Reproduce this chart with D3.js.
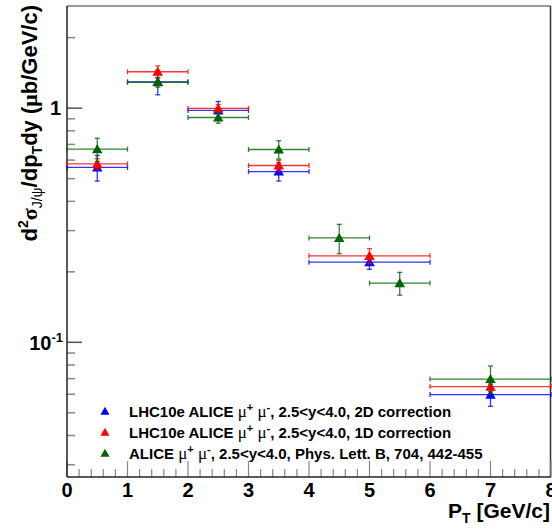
<!DOCTYPE html>
<html>
<head>
<meta charset="utf-8">
<script src="https://cdn.jsdelivr.net/npm/d3@7"></script>
<style>
  body { margin: 0; background: #fff; }
  text { font-family: "Liberation Sans", Arial, sans-serif; font-weight: bold; }
</style>
</head>
<body>
<div id="chart"></div>
<script>
// bins: centre, half width
var blueX  = [0.5, 1.5, 2.5, 3.5, 5, 7];
var blueW  = [0.5, 0.5, 0.5, 0.5, 1, 1];
var blueY  = [0.558, 1.295, 0.978, 0.536, 0.220, 0.0598];
var blueE  = [0.07, 0.155, 0.09, 0.048, 0.015, 0.0065];

var redX   = [0.5, 1.5, 2.5, 3.5, 5, 7];
var redW   = [0.5, 0.5, 0.5, 0.5, 1, 1];
var redY   = [0.578, 1.43, 0.997, 0.569, 0.234, 0.0647];
var redE   = [0.03, 0.085, 0.04, 0.03, 0.017, 0.003];

var greenX = [0.5, 1.5, 2.5, 3.5, 4.5, 5.5, 7];
var greenW = [0.5, 0.5, 0.5, 0.5, 0.5, 0.5, 1];
var greenY = [0.668, 1.29, 0.912, 0.666, 0.279, 0.179, 0.0697];
var greenE = [0.076, 0.06, 0.05, 0.06, 0.04, 0.02, 0.0095];

var xTicks = [0, 1, 2, 3, 4, 5, 6, 7, 8];
var legendLabels = [
  ["LHC10e ALICE ", ", 2.5<y<4.0, 2D correction"],
  ["LHC10e ALICE ", ", 2.5<y<4.0, 1D correction"],
  ["ALICE ", ", 2.5<y<4.0, Phys. Lett. B, 704, 442-455"]
];
var colors = ["#0000ff", "#ff0000", "#006400"];

var W = 552, H = 531;
var pL = 67, pR = 551, pT = 6, pB = 477;

var svg = d3.select("#chart").append("svg")
  .attr("width", W).attr("height", H);

var x = d3.scaleLinear().domain([0, 8]).range([pL, pR]);
var y = d3.scaleLog().domain([0.0266, 2.73]).range([pB, pT]);

// frame
svg.append("line").attr("x1", pL).attr("x2", pR).attr("y1", pT).attr("y2", pT)
  .attr("stroke", "#999").attr("stroke-width", 2);
svg.append("line").attr("x1", pR - 0.5).attr("x2", pR - 0.5).attr("y1", pT).attr("y2", pB)
  .attr("stroke", "#333").attr("stroke-width", 1.5);

// y ticks
var yMinor = [];
[0.01, 0.1, 1].forEach(function(d){
  for (var k = 2; k <= 9; k++) {
    var v = d * k;
    if (v >= y.domain()[0] && v <= y.domain()[1]) yMinor.push(v);
  }
});
svg.selectAll(".ymin").data(yMinor).enter().append("line")
  .attr("x1", pL).attr("x2", pL + 8)
  .attr("y1", function(d){ return y(d); }).attr("y2", function(d){ return y(d); })
  .attr("stroke", "#888").attr("stroke-width", 1.5);
svg.selectAll(".ymaj").data([0.1, 1]).enter().append("line")
  .attr("x1", pL).attr("x2", pL + 15)
  .attr("y1", function(d){ return y(d); }).attr("y2", function(d){ return y(d); })
  .attr("stroke", "#555").attr("stroke-width", 1.5);

// x ticks
var xMinor = d3.range(0, 8.001, 0.2).filter(function(d){ return Math.abs(d - Math.round(d)) > 0.01; });
svg.selectAll(".xmin").data(xMinor).enter().append("line")
  .attr("x1", function(d){ return x(d); }).attr("x2", function(d){ return x(d); })
  .attr("y1", pB).attr("y2", pB - 8)
  .attr("stroke", "#888").attr("stroke-width", 1.2);
svg.selectAll(".xmaj").data(xTicks).enter().append("line")
  .attr("x1", function(d){ return x(d); }).attr("x2", function(d){ return x(d); })
  .attr("y1", pB).attr("y2", pB - 16)
  .attr("stroke", "#888").attr("stroke-width", 1.2);

// axes lines
svg.append("line").attr("x1", pL).attr("x2", pL).attr("y1", pT).attr("y2", pB)
  .attr("stroke", "#222").attr("stroke-width", 1.5);
svg.append("line").attr("x1", pL).attr("x2", pR).attr("y1", pB).attr("y2", pB)
  .attr("stroke", "#222").attr("stroke-width", 1.5);

// tick labels
svg.selectAll(".xlab").data(xTicks).enter().append("text")
  .attr("x", function(d){ return x(d); }).attr("y", 497)
  .attr("text-anchor", "middle").attr("font-size", 20)
  .text(function(d){ return d; });

svg.append("text").attr("x", 61).attr("y", y(1) + 7)
  .attr("text-anchor", "end").attr("font-size", 20).text("1");
var t01 = svg.append("text").attr("x", 63).attr("y", y(0.1) + 8)
  .attr("text-anchor", "end").attr("font-size", 20);
t01.append("tspan").text("10");
t01.append("tspan").attr("dy", -8).attr("font-size", 13).text("-1");

// axis titles
var xt = svg.append("text").attr("x", 550).attr("y", 518)
  .attr("text-anchor", "end").attr("font-size", 21);
xt.append("tspan").text("P");
xt.append("tspan").attr("font-size", 14).attr("dy", 5).text("T");
xt.append("tspan").attr("dy", -5).text(" [GeV/c]");

var yt = svg.append("text").attr("transform", "translate(37,5) rotate(-90)")
  .attr("text-anchor", "end").attr("font-size", 22);
yt.append("tspan").text("d");
yt.append("tspan").attr("font-size", 14).attr("dy", -9).text("2");
yt.append("tspan").attr("dy", 9).attr("font-family", "Liberation Serif").text("σ");
yt.append("tspan").attr("font-size", 14).attr("dy", 5).attr("font-weight", "normal").text("J/ψ");
yt.append("tspan").attr("dy", -5).text("/dp");
yt.append("tspan").attr("font-size", 14).attr("dy", 5).text("T");
yt.append("tspan").attr("dy", -5).text("dy (");
yt.append("tspan").attr("font-family", "Liberation Serif").text("μ");
yt.append("tspan").text("b/GeV/c)");

// data
var tri = d3.symbol().type(d3.symbolTriangle).size(48);
function drawSeries(xs, ws, ys, es, col) {
  var data = xs.map(function(d, i){ return {x: d, w: ws[i], y: ys[i], e: es[i]}; });
  var g = svg.append("g");
  var cap = 2.5;
  data.forEach(function(d){
    var cx = x(d.x), cy = y(d.y);
    var x0 = x(d.x - d.w), x1 = x(d.x + d.w);
    var y0 = y(d.y - d.e), y1 = y(d.y + d.e);
    var lines = [
      [x0, cy, x1, cy],
      [x0, cy - cap, x0, cy + cap],
      [x1, cy - cap, x1, cy + cap],
      [cx, y0, cx, y1],
      [cx - cap, y0, cx + cap, y0],
      [cx - cap, y1, cx + cap, y1]
    ];
    lines.forEach(function(l){
      g.append("line").attr("x1", l[0]).attr("y1", l[1]).attr("x2", l[2]).attr("y2", l[3])
        .attr("stroke", col).attr("stroke-width", 1.3).attr("stroke-opacity", 0.8);
    });
    g.append("path").attr("d", tri).attr("transform", "translate(" + cx + "," + (cy + 1) + ")")
      .attr("fill", col);
  });
}
drawSeries(blueX, blueW, blueY, blueE, colors[0]);
drawSeries(redX, redW, redY, redE, colors[1]);
drawSeries(greenX, greenW, greenY, greenE, colors[2]);

// legend
var legRows = [412, 433, 454];
legendLabels.forEach(function(lab, i){
  svg.append("path").attr("d", d3.symbol().type(d3.symbolTriangle).size(36))
    .attr("transform", "translate(105," + legRows[i] + ")").attr("fill", colors[i]);
  var t = svg.append("text").attr("x", 129).attr("y", legRows[i] + 5).attr("font-size", 15);
  t.append("tspan").text(lab[0]);
  t.append("tspan").attr("font-family", "Liberation Serif").attr("font-weight", "normal").attr("font-size", 17).text("μ");
  t.append("tspan").attr("font-size", 11).attr("dy", -6).text("+");
  t.append("tspan").attr("dy", 6).text(" ");
  t.append("tspan").attr("font-family", "Liberation Serif").attr("font-weight", "normal").attr("font-size", 17).text("μ");
  t.append("tspan").attr("font-size", 11).attr("dy", -6).text("-");
  t.append("tspan").attr("dy", 6).text(lab[1]);
});
</script>
</body>
</html>
